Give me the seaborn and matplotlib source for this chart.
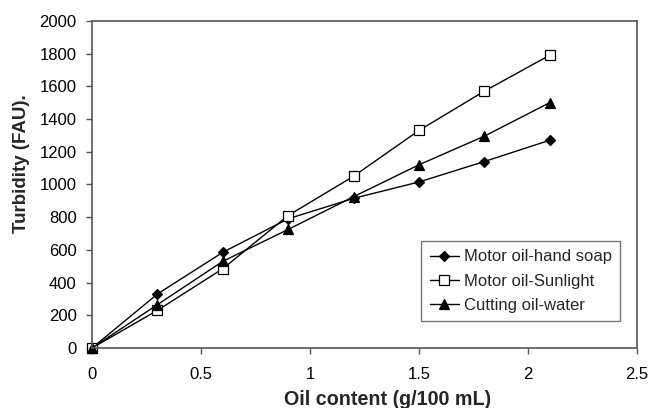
import matplotlib
matplotlib.use("Agg")
import matplotlib.pyplot as plt
import seaborn as sns
import pandas as pd

oil_content = [0, 0.3, 0.6, 0.9, 1.2, 1.5, 1.8, 2.1]
hand_soap = [0, 330, 585, 790, 915, 1015, 1140, 1270]
sunlight = [0, 230, 485, 810, 1050, 1330, 1570, 1790]
cutting_oil = [0, 265, 530, 725, 925, 1120, 1295, 1500]
series_names = ["Motor oil-hand soap", "Motor oil-Sunlight", "Cutting oil-water"]

sns.set_theme(style="white")
plt.rcParams["font.family"] = ["Liberation Sans", "DejaVu Sans"]

df = pd.DataFrame({
    "x": oil_content * 3,
    "y": hand_soap + sunlight + cutting_oil,
    "series": sum([[n] * len(oil_content) for n in series_names], []),
})

fig = plt.figure(figsize=(6.48, 4.08), dpi=100)
ax = fig.add_axes([0.142, 0.147, 0.841, 0.802])

styles = {
    "Motor oil-hand soap": dict(marker="D", mfc="black", ms=5.5),
    "Motor oil-Sunlight": dict(marker="s", mfc="white", ms=6.5),
    "Cutting oil-water": dict(marker="^", mfc="black", ms=7),
}
for name in series_names:
    sub = df[df["series"] == name]
    st = styles[name]
    sns.lineplot(data=sub, x="x", y="y", ax=ax, color="black", linewidth=1.0,
                 marker=st["marker"], markersize=st["ms"], markerfacecolor=st["mfc"],
                 markeredgecolor="black", markeredgewidth=0.9, label=name,
                 clip_on=False)

ax.set_xlim(0, 2.5)
ax.set_ylim(0, 2000)
ax.set_xticks([0, 0.5, 1, 1.5, 2, 2.5])
ax.set_xticklabels(["0", "0.5", "1", "1.5", "2", "2.5"])
ax.set_yticks(range(0, 2001, 200))
ax.tick_params(axis="both", which="major", labelsize=12, direction="out",
               length=4, width=1, color="#555555", left=True, bottom=True,
               labelcolor="black")
ax.tick_params(axis="x", pad=10)
ax.tick_params(axis="y", pad=7)
for s in ax.spines.values():
    s.set_color("#555555")
    s.set_linewidth(1.2)

ax.set_xlabel("Oil content (g/100 mL)", fontsize=14.2, fontweight="bold")
ax.set_ylabel("Turbidity (FAU).", fontsize=13.5, fontweight="bold")
ax.xaxis.set_label_coords(0.543, -0.127)
ax.yaxis.set_label_coords(-0.114, 0.563)

leg = ax.legend(loc="upper left", bbox_to_anchor=(0.604, 0.327), fontsize=12,
                frameon=True, fancybox=False, edgecolor="#555555",
                handlelength=1.75, handletextpad=0.3, borderpad=0.5,
                labelspacing=0.55, borderaxespad=0)
leg.get_frame().set_linewidth(1.0)

fig.savefig("out.png", dpi=100)
